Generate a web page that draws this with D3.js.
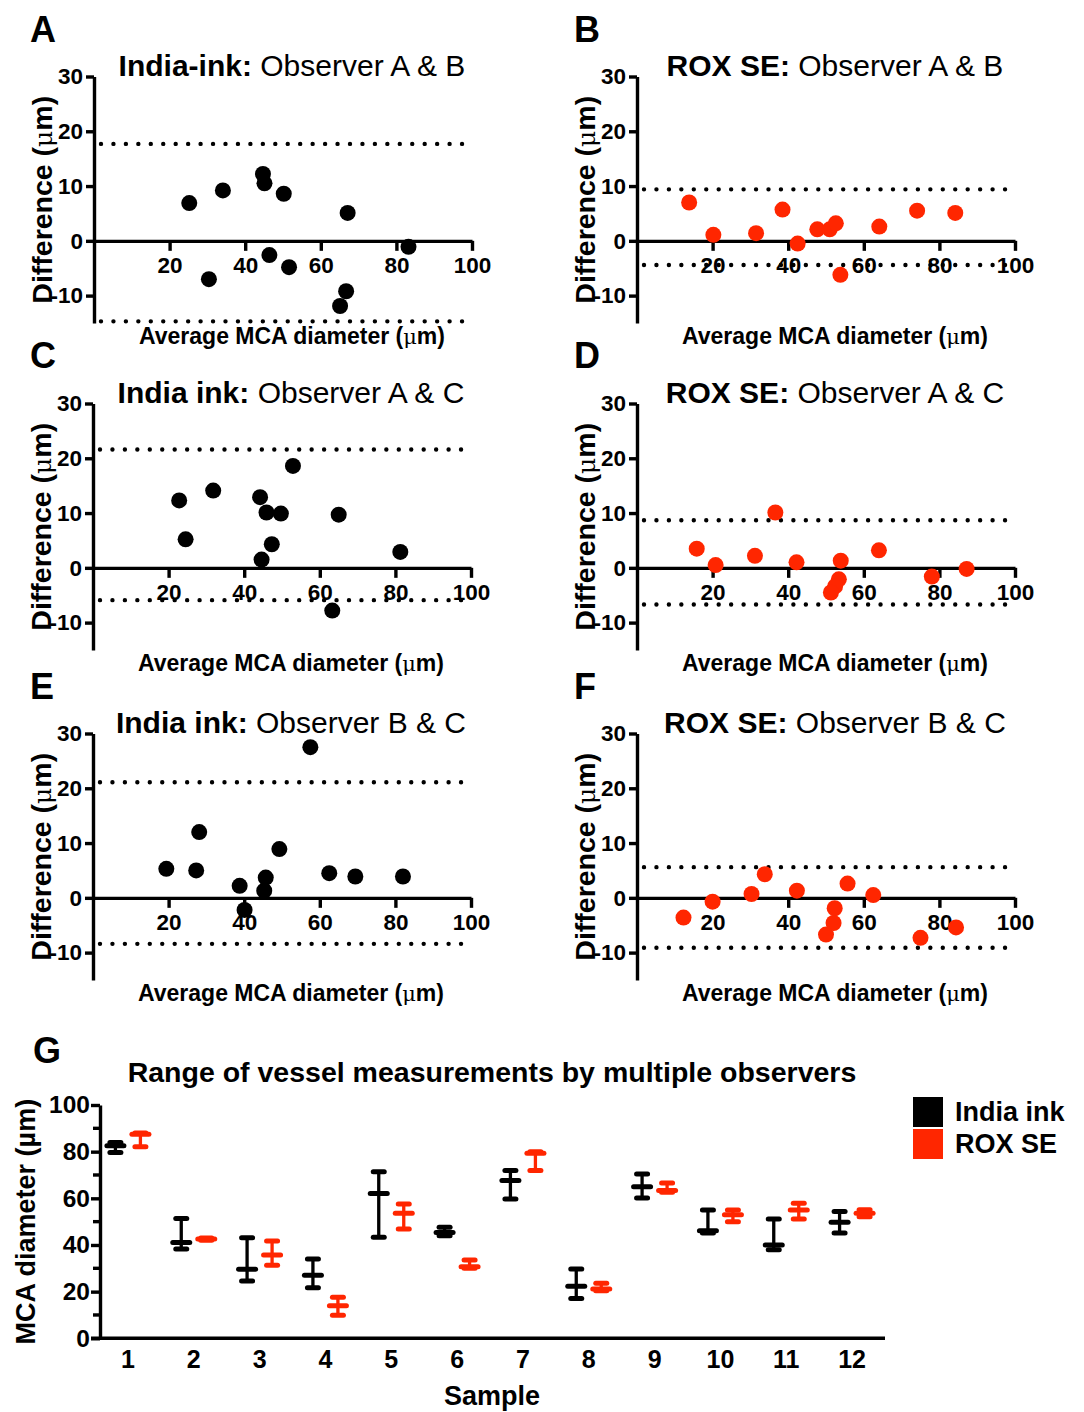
<!DOCTYPE html>
<html>
<head>
<meta charset="utf-8">
<script src="https://cdn.jsdelivr.net/npm/d3@7"></script>
<style>
body{margin:0;background:#fff}
svg text{font-family:"Liberation Sans",Arial,Helvetica,sans-serif;fill:#000}
</style>
</head>
<body>
<script>
// Bland-Altman panels: average diameter vs difference (um)
var avgA = [25.2, 34.1, 44.7, 45.1, 50.2, 67.1, 83.2, 30.4, 46.4, 51.6, 66.7, 65.1];
var diffA = [6.9, 9.2, 12.2, 10.5, 8.6, 5.1, -1.1, -7.0, -2.6, -4.8, -9.2, -11.9];
var limitsA = [17.7, -14.7];

var avgB = [13.8, 20.2, 31.5, 38.5, 42.5, 47.7, 51.0, 52.6, 53.8, 64.1, 74.1, 84.2];
var diffB = [7.0, 1.1, 1.4, 5.7, -0.5, 2.1, 2.1, 3.2, -6.2, 2.6, 5.5, 5.1];
var limitsB = [9.4, -4.4];

var avgC = [22.8, 24.5, 31.8, 44.2, 45.9, 49.7, 52.9, 47.3, 44.6, 65.0, 81.3, 63.3];
var diffC = [12.3, 5.2, 14.1, 12.9, 10.1, 9.9, 18.6, 4.3, 1.5, 9.7, 2.9, -7.8];
var limitsC = [21.6, -5.9];

var avgD = [15.8, 20.8, 31.2, 36.6, 42.2, 53.9, 53.4, 52.4, 51.3, 64.0, 78.0, 87.2];
var diffD = [3.5, 0.5, 2.2, 10.1, 1.0, 1.3, -2.1, -3.4, -4.5, 3.2, -1.6, -0.2];
var limitsD = [8.7, -6.7];

var avgE = [57.5, 28.1, 19.4, 27.3, 49.3, 38.8, 40.1, 45.7, 45.3, 62.5, 69.4, 82.0];
var diffE = [27.5, 12.0, 5.3, 5.0, 8.9, 2.2, -2.2, 3.7, 1.3, 4.5, 3.9, 3.9];
var limitsE = [21.1, -8.4];

var avgF = [12.3, 20.0, 30.3, 33.8, 42.3, 55.7, 62.5, 52.3, 52.0, 50.0, 75.0, 84.4];
var diffF = [-3.6, -0.7, 0.7, 4.3, 1.3, 2.6, 0.5, -1.9, -4.6, -6.7, -7.3, -5.4];
var limitsF = [5.6, -9.1];

var xTicks = [20, 40, 60, 80, 100];
var yTicks = [-10, 0, 10, 20, 30];

// panel G: range of measurements per sample
var samples = ["1","2","3","4","5","6","7","8","9","10","11","12"];
var inkMin  = [79.6, 38.3, 24.6, 21.7, 43.3, 44.0, 59.7, 17.1, 60.1, 45.1, 38.0, 45.1];
var inkMean = [82.5, 41.1, 29.6, 27.0, 62.1, 45.3, 67.6, 22.3, 65.0, 46.1, 40.0, 49.7];
var inkMax  = [83.9, 51.4, 43.1, 34.0, 71.4, 47.6, 71.9, 29.7, 70.4, 55.0, 51.1, 54.3];
var roxMin  = [82.1, 42.0, 31.3, 9.9, 46.9, 30.0, 71.9, 20.4, 62.6, 50.0, 51.1, 52.1];
var roxMean = [87.5, 42.6, 35.7, 13.9, 53.6, 30.7, 79.3, 21.1, 63.3, 53.0, 55.0, 53.6];
var roxMax  = [88.0, 43.0, 41.7, 17.6, 57.6, 33.6, 80.0, 23.6, 66.6, 55.0, 57.9, 55.1];
var gTicks = [0, 20, 40, 60, 80, 100];
var gMinor = [10, 30, 50, 70, 90];

var RED = "#ff2600";

var svg = d3.select("body").append("svg")
    .attr("width", 1084)
    .attr("height", 1412);

function scatterPanel(p) {
    var x = d3.scaleLinear().domain([0, 100]).range([p.ax, p.ax + 378]);
    var y = d3.scaleLinear().domain([-15, 30]).range([p.top + 246.5, p.top]);
    var g = svg.append("g");

    g.append("text").attr("x", p.lx).attr("y", p.ly)
        .attr("font-size", 36).attr("font-weight", "bold").text(p.letter);

    var t = g.append("text").attr("x", p.ax + 198).attr("y", p.top - 1)
        .attr("text-anchor", "middle").attr("font-size", 30);
    t.append("tspan").attr("font-weight", "bold").text(p.bold);
    t.append("tspan").text(" " + p.rest);

    // y axis
    var ya = g.append("g").attr("transform", "translate(" + p.ax + ",0)")
        .call(d3.axisLeft(y).tickValues(yTicks).tickSize(8).tickSizeOuter(0)
            .tickFormat(function(d){ return String(d); }));
    // x axis at zero
    var xa = g.append("g").attr("transform", "translate(0," + y(0) + ")")
        .call(d3.axisBottom(x).tickValues(xTicks).tickSize(10).tickSizeOuter(0));
    [ya, xa].forEach(function(a){
        a.select(".domain").attr("stroke", "#000").attr("stroke-width", 3.4);
        a.selectAll(".tick line").attr("stroke", "#000").attr("stroke-width", 3.4);
        a.selectAll("text").attr("font-size", 22.5).attr("font-weight", "bold")
            .attr("font-family", "Liberation Sans, Arial, sans-serif").attr("fill", "#000");
    });
    ya.selectAll(".tick text").attr("x", -11);
    xa.selectAll(".tick text").attr("y", 32).attr("dy", 0);

    // limits of agreement
    g.selectAll(".loa").data(p.limits).enter().append("line")
        .attr("x1", x(1.85)).attr("x2", x(98.8))
        .attr("y1", function(d){ return y(d); }).attr("y2", function(d){ return y(d); })
        .attr("stroke", "#000").attr("stroke-width", 4.4)
        .attr("stroke-linecap", "round").attr("stroke-dasharray", "0 12.45");

    g.selectAll("circle").data(p.avg).enter().append("circle")
        .attr("cx", function(d){ return x(d); })
        .attr("cy", function(d, i){ return y(p.diff[i]); })
        .attr("r", 8).attr("fill", p.color);

    // axis titles
    var yl = g.append("text")
        .attr("transform", "translate(" + (p.ax - 42) + "," + y(7.5) + ") rotate(-90)")
        .attr("text-anchor", "middle").attr("font-size", 28.5).attr("font-weight", "bold");
    yl.append("tspan").text("Difference (");
    yl.append("tspan").attr("font-weight", "normal").attr("font-family", "DejaVu Serif, serif").attr("font-size", 25).text("μ");
    yl.append("tspan").text("m)");

    var xl = g.append("text").attr("x", p.ax + 198).attr("y", p.top + 267)
        .attr("text-anchor", "middle").attr("font-size", 23).attr("font-weight", "bold");
    xl.append("tspan").text("Average MCA diameter (");
    xl.append("tspan").attr("font-weight", "normal").attr("font-family", "DejaVu Serif, serif").attr("font-size", 21).text("μ");
    xl.append("tspan").text("m)");
}

var panels = [
    {letter:"A", lx:30, ly:42, ax:94, top:76.5, bold:"India-ink:", rest:"Observer A & B", avg:avgA, diff:diffA, limits:limitsA, color:"#000"},
    {letter:"B", lx:574, ly:42, ax:637, top:76.5, bold:"ROX SE:", rest:"Observer A & B", avg:avgB, diff:diffB, limits:limitsB, color:RED},
    {letter:"C", lx:30, ly:368, ax:93, top:403.5, bold:"India ink:", rest:"Observer A & C", avg:avgC, diff:diffC, limits:limitsC, color:"#000"},
    {letter:"D", lx:574, ly:368, ax:637, top:403.5, bold:"ROX SE:", rest:"Observer A & C", avg:avgD, diff:diffD, limits:limitsD, color:RED},
    {letter:"E", lx:30, ly:699, ax:93, top:733.5, bold:"India ink:", rest:"Observer B & C", avg:avgE, diff:diffE, limits:limitsE, color:"#000"},
    {letter:"F", lx:574, ly:699, ax:637, top:733.5, bold:"ROX SE:", rest:"Observer B & C", avg:avgF, diff:diffF, limits:limitsF, color:RED}
];
panels.forEach(scatterPanel);

// ---- panel G ----
var gx = d3.scaleBand().domain(samples).range([95, 885]);
var gy = d3.scaleLinear().domain([0, 100]).range([1338.3, 1105]);
var G = svg.append("g");

G.append("text").attr("x", 33).attr("y", 1063).attr("font-size", 36).attr("font-weight", "bold").text("G");
G.append("text").attr("x", 492).attr("y", 1082).attr("text-anchor", "middle")
    .attr("font-size", 28.5).attr("font-weight", "bold").text("Range of vessel measurements by multiple observers");

var gya = G.append("g").attr("transform", "translate(100,0)")
    .call(d3.axisLeft(gy).tickValues(gTicks).tickSize(9).tickSizeOuter(0).tickFormat(function(d){ return String(d); }));
gya.select(".domain").attr("stroke", "#000").attr("stroke-width", 3.4);
gya.selectAll(".tick line").attr("stroke", "#000").attr("stroke-width", 3.4);
gya.selectAll("text").attr("font-size", 24.5).attr("font-weight", "bold").attr("x", -10)
    .attr("font-family", "Liberation Sans, Arial, sans-serif").attr("fill", "#000");
G.selectAll(".minor").data(gMinor).enter().append("line")
    .attr("x1", 93).attr("x2", 100)
    .attr("y1", function(d){ return gy(d); }).attr("y2", function(d){ return gy(d); })
    .attr("stroke", "#000").attr("stroke-width", 3.4);

var gxa = G.append("g").attr("transform", "translate(0," + gy(0) + ")")
    .call(d3.axisBottom(gx).tickSize(0).tickSizeOuter(0));
gxa.select(".domain").attr("stroke", "#000").attr("stroke-width", 3.6).attr("d", "M91,0H885");
gxa.selectAll("text").attr("font-size", 25).attr("font-weight", "bold").attr("y", 30).attr("dy", 0)
    .attr("font-family", "Liberation Sans, Arial, sans-serif").attr("fill", "#000");

function rangeBars(mins, means, maxs, off, color) {
    var grp = G.append("g");
    var cx = function(i){ return gx(samples[i]) + gx.bandwidth() / 2 + off; };
    samples.forEach(function(s, i){
        grp.append("line").attr("x1", cx(i)).attr("x2", cx(i))
            .attr("y1", gy(mins[i])).attr("y2", gy(maxs[i]))
            .attr("stroke", color).attr("stroke-width", 3.3);
        [mins[i], maxs[i]].forEach(function(v){
            grp.append("line").attr("x1", cx(i) - 5.5).attr("x2", cx(i) + 5.5)
                .attr("y1", gy(v)).attr("y2", gy(v))
                .attr("stroke", color).attr("stroke-width", 5).attr("stroke-linecap", "round");
        });
        grp.append("line").attr("x1", cx(i) - 8.5).attr("x2", cx(i) + 8.5)
            .attr("y1", gy(means[i])).attr("y2", gy(means[i]))
            .attr("stroke", color).attr("stroke-width", 5).attr("stroke-linecap", "round");
    });
}
rangeBars(inkMin, inkMean, inkMax, -12.5, "#000");
rangeBars(roxMin, roxMean, roxMax, 12.5, RED);

G.append("text").attr("transform", "translate(35," + gy(50) + ") rotate(-90)")
    .attr("text-anchor", "middle").attr("font-size", 27).attr("font-weight", "bold")
    .text("MCA diameter (µm)");
G.append("text").attr("x", 492).attr("y", 1405).attr("text-anchor", "middle")
    .attr("font-size", 27).attr("font-weight", "bold").text("Sample");

// legend
var legend = [{name:"India ink", color:"#000"}, {name:"ROX SE", color:RED}];
var lg = G.selectAll(".leg").data(legend).enter().append("g")
    .attr("transform", function(d, i){ return "translate(913," + (1097 + i * 32) + ")"; });
lg.append("rect").attr("width", 30).attr("height", 30).attr("fill", function(d){ return d.color; });
lg.append("text").attr("x", 42).attr("y", 24).attr("font-size", 27).attr("font-weight", "bold")
    .text(function(d){ return d.name; });
</script>
</body>
</html>
